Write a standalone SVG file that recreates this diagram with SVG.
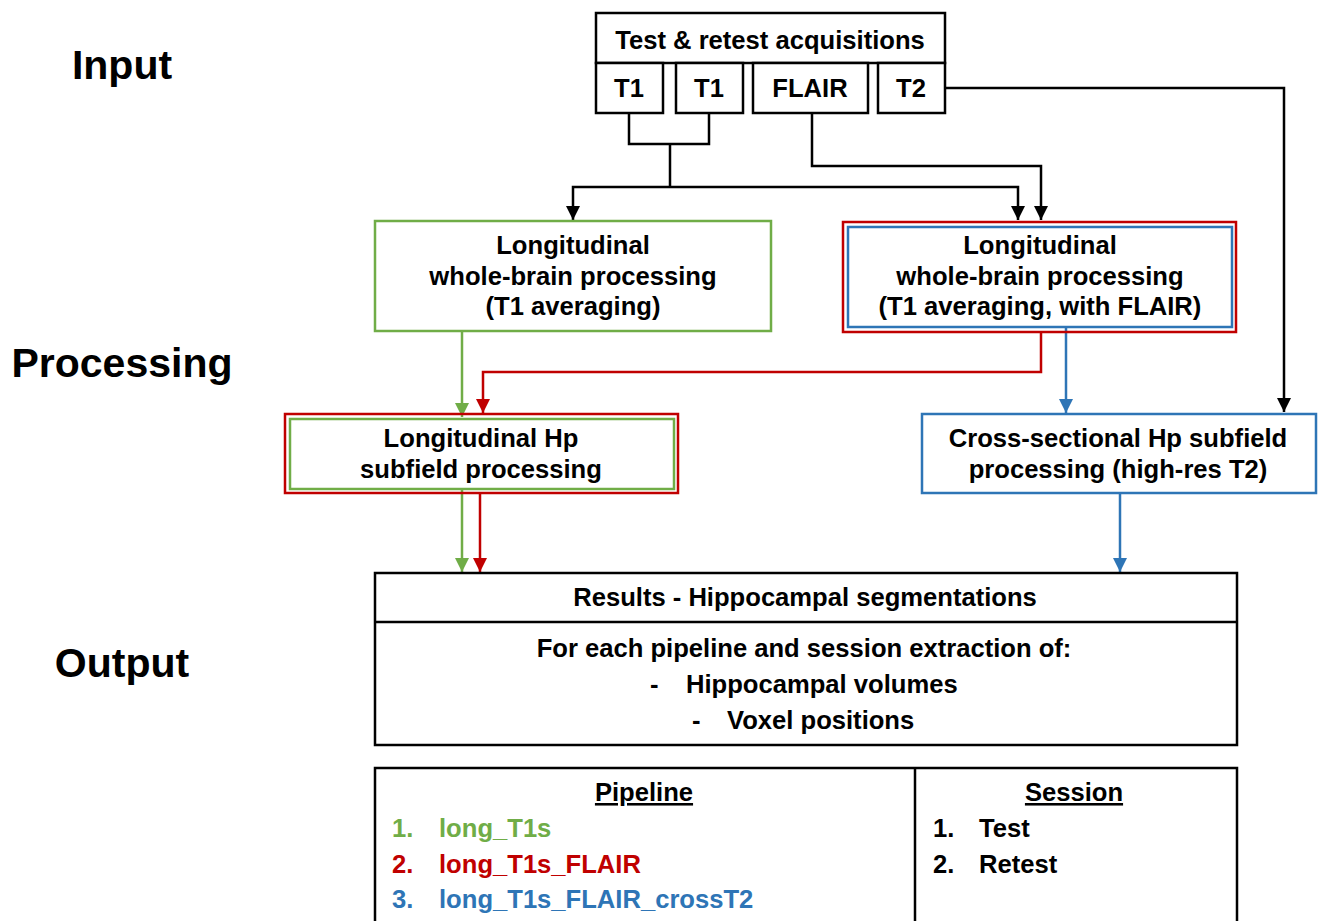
<svg xmlns="http://www.w3.org/2000/svg" width="1318" height="921" viewBox="0 0 1318 921">
<style>
text{font-family:"Liberation Sans",Arial,sans-serif;font-weight:bold;fill:#000;}
.t{font-size:25.6px;text-anchor:middle;}
.tl{font-size:25.6px;}
.big{font-size:41px;text-anchor:middle;}
.box{fill:#fff;stroke:#000;stroke-width:2.5;}
.g{fill:none;stroke:#70AD47;stroke-width:2.5;}
.r{fill:none;stroke:#C00000;stroke-width:2.5;}
.b{fill:none;stroke:#2E75B6;stroke-width:2.5;}
.k{fill:none;stroke:#000;stroke-width:2.5;}
.gt{fill:#70AD47;} .rt{fill:#C00000;} .bt{fill:#2E75B6;}
</style>
<defs>
<marker id="ak" markerUnits="userSpaceOnUse" markerWidth="16" markerHeight="16" refX="14" refY="7" orient="auto"><path d="M0,0 L14,7 L0,14 Z" fill="#000"/></marker>
<marker id="ag" markerUnits="userSpaceOnUse" markerWidth="16" markerHeight="16" refX="14" refY="7" orient="auto"><path d="M0,0 L14,7 L0,14 Z" fill="#70AD47"/></marker>
<marker id="ar" markerUnits="userSpaceOnUse" markerWidth="16" markerHeight="16" refX="14" refY="7" orient="auto"><path d="M0,0 L14,7 L0,14 Z" fill="#C00000"/></marker>
<marker id="ab" markerUnits="userSpaceOnUse" markerWidth="16" markerHeight="16" refX="14" refY="7" orient="auto"><path d="M0,0 L14,7 L0,14 Z" fill="#2E75B6"/></marker>
</defs>
<rect width="1318" height="921" fill="#fff"/>

<g id="labels">
<text class="big" x="122" y="79">Input</text>
<text class="big" x="122" y="377">Processing</text>
<text class="big" x="122" y="677">Output</text>
</g>

<g id="connectors">
<path class="k" d="M629,113 V144 H709 V113"/>
<path class="k" d="M670,144 V187"/>
<path class="k" d="M670,187 H573 V220" marker-end="url(#ak)"/>
<path class="k" d="M670,187 H1018 V220" marker-end="url(#ak)"/>
<path class="k" d="M812,113 V166 H1041 V220" marker-end="url(#ak)"/>
<path class="k" d="M945,88 H1284 V412" marker-end="url(#ak)"/>
<path class="g" d="M462,332 V417" marker-end="url(#ag)"/>
<path class="r" d="M1041,332 V372 H483 V413" marker-end="url(#ar)"/>
<path class="b" d="M1066,327 V413" marker-end="url(#ab)"/>
<path class="g" d="M462,489 V572" marker-end="url(#ag)"/>
<path class="r" d="M480,494 V572" marker-end="url(#ar)"/>
<path class="b" d="M1120,494 V572" marker-end="url(#ab)"/>
</g>

<g id="acquisitions">
<rect class="box" x="596" y="13" width="349" height="50"/>
<text class="t" x="770" y="49">Test &amp; retest acquisitions</text>
</g>
<g id="t1a"><rect class="box" x="596" y="63" width="67" height="50"/><text class="t" x="629" y="97">T1</text></g>
<g id="t1b"><rect class="box" x="676" y="63" width="67" height="50"/><text class="t" x="709" y="97">T1</text></g>
<g id="flair"><rect class="box" x="753" y="63" width="115" height="50"/><text class="t" x="810" y="97">FLAIR</text></g>
<g id="t2"><rect class="box" x="878" y="63" width="67" height="50"/><text class="t" x="911" y="97">T2</text></g>

<g id="long_wb">
<rect x="375" y="221" width="396" height="110" fill="#fff" class="g"/>
<text class="t" x="573" y="254">Longitudinal</text>
<text class="t" x="573" y="285">whole-brain processing</text>
<text class="t" x="573" y="315">(T1 averaging)</text>
</g>

<g id="long_wb_flair">
<rect x="843" y="222" width="393" height="110" fill="#fff" class="r"/>
<rect x="848" y="227" width="384" height="100" class="b"/>
<text class="t" x="1040" y="254">Longitudinal</text>
<text class="t" x="1040" y="285">whole-brain processing</text>
<text class="t" x="1040" y="315">(T1 averaging, with FLAIR)</text>
</g>

<g id="long_hp">
<rect x="285" y="414" width="393" height="79" fill="#fff" class="r"/>
<rect x="290" y="419" width="384" height="70" class="g"/>
<text class="t" x="481" y="447">Longitudinal Hp</text>
<text class="t" x="481" y="478">subfield processing</text>
</g>

<g id="cross_hp">
<rect x="922" y="414" width="394" height="79" fill="#fff" class="b"/>
<text class="t" x="1118" y="447">Cross-sectional Hp subfield</text>
<text class="t" x="1118" y="478">processing (high-res T2)</text>
</g>

<g id="results">
<rect class="box" x="375" y="573" width="862" height="172"/>
<line class="k" x1="375" y1="622" x2="1237" y2="622"/>
<text class="t" x="805" y="606">Results - Hippocampal segmentations</text>
<text class="t" x="804" y="657">For each pipeline and session extraction of:</text>
<text class="tl" x="650" y="693">-</text>
<text class="tl" x="686" y="693">Hippocampal volumes</text>
<text class="tl" x="692" y="729">-</text>
<text class="tl" x="727" y="729">Voxel positions</text>
</g>

<g id="legend">
<rect class="box" x="375" y="768" width="862" height="170"/>
<line class="k" x1="915" y1="768" x2="915" y2="921"/>
<text class="t" x="644" y="801" text-decoration="underline">Pipeline</text>
<text class="tl gt" x="392" y="837">1.</text><text class="tl gt" x="439" y="837">long_T1s</text>
<text class="tl rt" x="392" y="873">2.</text><text class="tl rt" x="439" y="873">long_T1s_FLAIR</text>
<text class="tl bt" x="392" y="908">3.</text><text class="tl bt" x="439" y="908">long_T1s_FLAIR_crossT2</text>
<text class="t" x="1074" y="801" text-decoration="underline">Session</text>
<text class="tl" x="933" y="837">1.</text><text class="tl" x="979" y="837">Test</text>
<text class="tl" x="933" y="873">2.</text><text class="tl" x="979" y="873">Retest</text>
</g>
</svg>
